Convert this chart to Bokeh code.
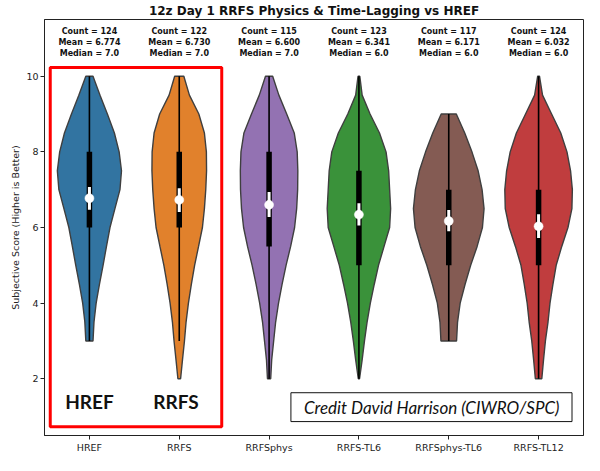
from bokeh.plotting import figure
from bokeh.models import Range1d, FixedTicker, BoxAnnotation, Label
from bokeh.embed import file_html
from bokeh.resources import INLINE

# ---------------- data ----------------
models = ["HREF", "RRFS", "RRFSphys", "RRFS-TL6", "RRFSphys-TL6", "RRFS-TL12"]
counts = [124, 122, 115, 123, 117, 124]
means = [6.774, 6.730, 6.600, 6.341, 6.171, 6.032]
medians = [7.0, 7.0, 7.0, 6.0, 6.0, 6.0]
colors = ["#3274a1", "#e1812c", "#9372b2", "#3a923a", "#845b53", "#c03d3e"]

q1 = [6.0, 6.0, 5.5, 5.0, 5.0, 5.0]
q3 = [8.0, 8.0, 8.0, 7.5, 7.0, 7.0]
whisk_lo = [3.0, 3.0, 2.0, 2.0, 3.0, 2.0]
whisk_hi = [10.0, 10.0, 10.0, 10.0, 9.0, 10.0]
ci_lo = [6.47, 6.41, 6.28, 6.05, 5.90, 5.72]
ci_hi = [7.07, 7.04, 6.94, 6.64, 6.46, 6.35]

# score levels at which the violin half-widths were read
levels = [2.0, 2.5, 3.0, 3.5, 4.0, 4.5, 5.0, 5.5, 6.0, 6.5, 7.0, 7.5, 8.0, 8.5, 9.0, 9.5, 10.0]
hw_href = [None, None, 0.040, 0.051, 0.075, 0.112, 0.152, 0.190, 0.229, 0.284, 0.340, 0.357, 0.331, 0.278, 0.200, 0.118, 0.040]
hw_rrfs = [0.015, 0.036, 0.058, 0.076, 0.102, 0.135, 0.171, 0.215, 0.258, 0.280, 0.295, 0.304, 0.302, 0.280, 0.218, 0.113, 0.051]
hw_rrfsphys = [0.018, 0.029, 0.051, 0.073, 0.105, 0.145, 0.189, 0.240, 0.284, 0.307, 0.318, 0.320, 0.313, 0.280, 0.196, 0.109, 0.040]
hw_tl6 = [0.007, 0.036, 0.062, 0.091, 0.127, 0.171, 0.218, 0.280, 0.342, 0.353, 0.342, 0.331, 0.302, 0.229, 0.124, 0.036, 0.010]
hw_phys_tl6 = [None, None, 0.087, 0.098, 0.127, 0.182, 0.244, 0.316, 0.375, 0.393, 0.371, 0.327, 0.258, 0.178, 0.084, None, None]
hw_tl12 = [0.036, 0.055, 0.076, 0.105, 0.127, 0.160, 0.196, 0.258, 0.327, 0.371, 0.376, 0.356, 0.316, 0.247, 0.145, 0.044, 0.010]
half_widths = [hw_href, hw_rrfs, hw_rrfsphys, hw_tl6, hw_phys_tl6, hw_tl12]

y_ticks = [2, 4, 6, 8, 10]

# ---------------- figure ----------------
p = figure(width=584, height=455, output_backend="svg", toolbar_location=None,
           x_range=Range1d(-0.5, 5.5), y_range=Range1d(0.5, 11.5),
           min_border_left=44, min_border_right=1, min_border_bottom=0, min_border_top=0)
p.background_fill_color = "white"
p.border_fill_color = "white"
p.outline_line_color = "#222222"
p.outline_line_width = 1
p.xgrid.visible = False
p.ygrid.visible = False

p.title.text = "12z Day 1 RRFS Physics & Time-Lagging vs HREF"
p.title.text_font = "DejaVu Sans"
p.title.text_font_size = "12px"
p.title.text_font_style = "bold"
p.title.text_color = "#111111"
p.title.align = "center"
p.title.standoff = 3

for ax in (p.xaxis[0], p.yaxis[0]):
    ax.axis_line_color = "#222222"
    ax.major_tick_line_color = "#222222"
    ax.major_tick_in = 0
    ax.major_tick_out = 4
    ax.minor_tick_line_color = None
    ax.major_label_text_font = "DejaVu Sans"
    ax.major_label_text_font_size = "9.5px"
    ax.major_label_text_color = "#222222"
    ax.major_label_standoff = 2

p.xaxis.ticker = FixedTicker(ticks=list(range(len(models))))
p.xaxis.major_label_overrides = {i: m for i, m in enumerate(models)}
p.xaxis.major_label_text_line_height = 1.0
p.yaxis.ticker = FixedTicker(ticks=y_ticks)
p.yaxis.axis_label = "Subjective Score (Higher is Better)"
p.yaxis.axis_label_text_font = "DejaVu Sans"
p.yaxis.axis_label_text_font_size = "9.5px"
p.yaxis.axis_label_text_font_style = "normal"
p.yaxis.axis_label_text_color = "#222222"
p.yaxis.axis_label_standoff = 2

# ---------------- violins ----------------
for i, hw in enumerate(half_widths):
    pts = [(lv, w) for lv, w in zip(levels, hw) if w is not None]
    xs = [i + w for lv, w in pts] + [i - w for lv, w in reversed(pts)]
    ys = [lv for lv, w in pts] + [lv for lv, w in reversed(pts)]
    p.patch(xs, ys, fill_color=colors[i], line_color="#3f3f3f", line_width=1.4)

xi = list(range(len(models)))
p.segment(x0=xi, y0=whisk_lo, x1=xi, y1=whisk_hi, line_color="black", line_width=1.6)
p.segment(x0=xi, y0=q1, x1=xi, y1=q3, line_color="black", line_width=5.5, line_cap="butt")
p.segment(x0=xi, y0=ci_lo, x1=xi, y1=ci_hi, line_color="white", line_width=3, line_cap="butt")
p.scatter(x=xi, y=means, size=9, fill_color="white", line_color="white", line_width=0.5)

# ---------------- stats text ----------------
for row_y, row in ((11.18, [f"Count = {c}" for c in counts]),
                   (10.88, [f"Mean = {m:.3f}" for m in means]),
                   (10.59, [f"Median = {m:.1f}" for m in medians])):
    for i, t in enumerate(row):
        p.add_layout(Label(x=i, y=row_y, text=t, text_align="center", text_baseline="middle",
                           text_font="DejaVu Sans", text_font_size="8px",
                           text_font_style="bold", text_color="#111111"))

# ---------------- annotations ----------------
p.add_layout(BoxAnnotation(left=-0.436, right=1.473, bottom=0.733, top=10.23,
                           fill_color=None, fill_alpha=0, line_color="#ff0000",
                           line_alpha=1, line_width=3))
p.add_layout(BoxAnnotation(left=2.243, right=5.372, bottom=0.868, top=1.631,
                           fill_color="white", fill_alpha=1, line_color="#111111",
                           line_alpha=1, line_width=1))
for x, t in ((0.0, "HREF"), (0.963, "RRFS")):
    p.add_layout(Label(x=x, y=1.41, text=t, text_align="center", text_baseline="middle",
                       text_font="Lato", text_font_size="19px", text_font_style="bold",
                       text_color="#111111"))
p.add_layout(Label(x=3.81, y=1.25, text="Credit David Harrison (CIWRO/SPC)",
                   text_align="center", text_baseline="middle", text_font="Lato",
                   text_font_size="17px", text_font_style="italic", text_color="#111111"))

open("out.html", "w").write(file_html(p, INLINE))
